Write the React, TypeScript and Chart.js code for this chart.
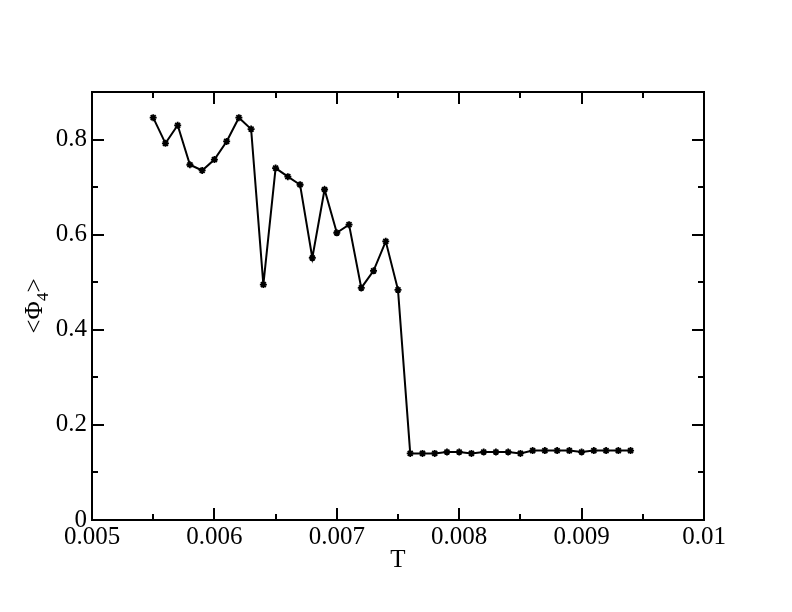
import React, { useEffect, useRef } from "react";
import { Chart, registerables } from "chart.js";
Chart.register(...registerables);

const T_VALUES = [
  0.0055, 0.0056, 0.0057, 0.0058, 0.0059, 0.006, 0.0061, 0.0062, 0.0063, 0.0064,
  0.0065, 0.0066, 0.0067, 0.0068, 0.0069, 0.007, 0.0071, 0.0072, 0.0073, 0.0074,
  0.0075, 0.0076, 0.0077, 0.0078, 0.0079, 0.008, 0.0081, 0.0082, 0.0083, 0.0084,
  0.0085, 0.0086, 0.0087, 0.0088, 0.0089, 0.009, 0.0091, 0.0092, 0.0093, 0.0094,
];
const PHI4 = [
  0.846, 0.792, 0.83, 0.747, 0.735, 0.758, 0.796, 0.846, 0.822, 0.495,
  0.74, 0.722, 0.705, 0.551, 0.695, 0.604, 0.621, 0.488, 0.524, 0.586,
  0.484, 0.14, 0.14, 0.14, 0.143, 0.143, 0.14, 0.143, 0.143, 0.143,
  0.14, 0.146, 0.146, 0.146, 0.146, 0.143, 0.146, 0.146, 0.146, 0.146,
];
const X_MAJOR = [0.005, 0.006, 0.007, 0.008, 0.009, 0.01];
const X_LABELS = ["0.005", "0.006", "0.007", "0.008", "0.009", "0.01"];
const X_MINOR = [0.0055, 0.0065, 0.0075, 0.0085, 0.0095];
const Y_MAJOR = [0, 0.2, 0.4, 0.6, 0.8];
const Y_LABELS = ["0", "0.2", "0.4", "0.6", "0.8"];
const Y_MINOR = [0.1, 0.3, 0.5, 0.7];

const FONT = "Liberation Serif";

const framePlugin = {
  id: "frame",
  afterDraw(chart: any) {
    const { ctx, chartArea: a, scales } = chart;
    const x = scales.x;
    const y = scales.y;
    ctx.save();
    ctx.strokeStyle = "#000";
    ctx.lineWidth = 2;
    ctx.strokeRect(a.left, a.top, a.right - a.left, a.bottom - a.top);
    const line = (x1: number, y1: number, x2: number, y2: number) => {
      ctx.beginPath();
      ctx.moveTo(x1, y1);
      ctx.lineTo(x2, y2);
      ctx.stroke();
    };
    const xt = (vals: number[], len: number) =>
      vals.forEach((v) => {
        const p = Math.round(x.getPixelForValue(v));
        line(p, a.bottom, p, a.bottom - len);
        line(p, a.top, p, a.top + len);
      });
    const yt = (vals: number[], len: number) =>
      vals.forEach((v) => {
        const p = Math.round(y.getPixelForValue(v));
        line(a.left, p, a.left + len, p);
        line(a.right, p, a.right - len, p);
      });
    xt(X_MAJOR, 12);
    xt(X_MINOR, 6);
    yt(Y_MAJOR, 12);
    yt(Y_MINOR, 6);

    ctx.fillStyle = "#000";
    ctx.font = `25px "${FONT}"`;
    ctx.textAlign = "center";
    ctx.textBaseline = "middle";
    ctx.fillText("T", (a.left + a.right) / 2, 560);

    // y title <Φ4> with subscript
    ctx.translate(34, (a.top + a.bottom) / 2);
    ctx.rotate(-Math.PI / 2);
    ctx.textAlign = "left";
    ctx.textBaseline = "alphabetic";
    const big = `25px "${FONT}"`;
    const small = `17px "${FONT}"`;
    ctx.font = big;
    const w1 = ctx.measureText("<Φ").width;
    const w3 = ctx.measureText(">").width;
    ctx.font = small;
    const w2 = ctx.measureText("4").width;
    const total = w1 + w2 + w3;
    let cx = -total / 2;
    const base = 8;
    ctx.font = big;
    ctx.fillText("<Φ", cx, base);
    cx += w1;
    ctx.font = small;
    ctx.fillText("4", cx, base + 6);
    cx += w2;
    ctx.font = big;
    ctx.fillText(">", cx, base);
    ctx.restore();
  },
};

export default function App() {
  const ref = useRef<HTMLCanvasElement | null>(null);
  useEffect(() => {
    if (!ref.current) return;
    const chart = new Chart(ref.current, {
      type: "scatter",
      data: {
        datasets: [
          {
            data: T_VALUES.map((t, i) => ({ x: t, y: PHI4[i] })),
            showLine: true,
            borderColor: "#000",
            backgroundColor: "#000",
            borderWidth: 2,
            pointStyle: "star",
            pointRadius: 3.5,
            pointBorderWidth: 1.8,
            pointBorderColor: "#000",
            tension: 0,
          },
        ],
      },
      options: {
        responsive: false,
        animation: false,
        devicePixelRatio: 1,
        layout: { padding: { top: 92, right: 88, left: 0, bottom: 0 } },
        plugins: { legend: { display: false }, tooltip: { enabled: false } },
        scales: {
          x: {
            type: "linear",
            min: 0.005,
            max: 0.01,
            grid: { display: false, drawTicks: false },
            border: { display: false },
            afterFit: (s: any) => {
              s.height = 92;
            },
            afterBuildTicks: (s: any) => {
              s.ticks = X_MAJOR.map((v) => ({ value: v }));
            },
            ticks: {
              color: "#000",
              font: { family: FONT, size: 25 },
              padding: 2,
              maxRotation: 0,
              autoSkip: false,
              callback: (v: any) => {
                const i = X_MAJOR.findIndex((m) => Math.abs(m - Number(v)) < 1e-9);
                return i >= 0 ? X_LABELS[i] : "";
              },
            },
          },
          y: {
            type: "linear",
            min: 0,
            max: 0.9,
            grid: { display: false, drawTicks: false },
            border: { display: false },
            afterFit: (s: any) => {
              s.width = 92;
            },
            afterBuildTicks: (s: any) => {
              s.ticks = Y_MAJOR.map((v) => ({ value: v }));
            },
            ticks: {
              color: "#000",
              font: { family: FONT, size: 25 },
              padding: 5,
              autoSkip: false,
              callback: (v: any) => {
                const i = Y_MAJOR.findIndex((m) => Math.abs(m - Number(v)) < 1e-9);
                return i >= 0 ? Y_LABELS[i] : "";
              },
            },
          },
        },
      },
      plugins: [framePlugin],
    });
    let alive = true;
    if ((document as any).fonts && (document as any).fonts.load) {
      Promise.all([
        (document as any).fonts.load(`25px "${FONT}"`),
        (document as any).fonts.load(`17px "${FONT}"`),
      ])
        .then(() => {
          if (alive) chart.update();
        })
        .catch(() => {});
    }
    return () => {
      alive = false;
      chart.destroy();
    };
  }, []);
  return (
    <div style={{ position: "fixed", left: 0, top: 0, width: 792, height: 612, background: "#fff" }}>
      <canvas ref={ref} width={792} height={612} />
    </div>
  );
}
